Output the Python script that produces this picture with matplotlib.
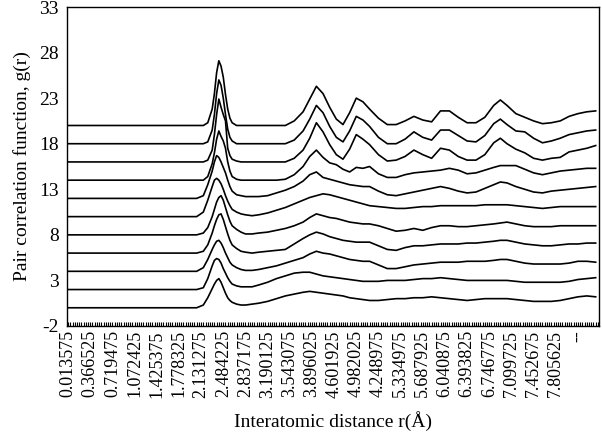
import matplotlib
matplotlib.use("Agg")
import matplotlib.pyplot as plt
import numpy as np

# category index (bins of 0.035295 A starting at 0.013575 A) where g(r) was read
sample_idx = [0, 30, 58, 61, 63, 65, 66, 67, 68, 69, 70, 71, 72, 73, 74,
              76, 78, 80, 83, 86, 90, 94, 98,
              102, 106, 109, 112, 115, 118, 121, 124, 127, 130, 133, 136,
              140, 144, 148, 152, 156, 160, 164, 168, 172, 176, 180, 184, 188, 192, 195, 198,
              202, 206, 210, 214, 218, 222, 226, 230, 234, 238]

# tick labels as printed under the axis (one every 10 categories)
tick_labels = ["0.013575", "0.366525", "0.719475", "1.072425", "1.425375", "1.778325",
               "2.131275", "2.484225", "2.837175", "3.190125", "3.543075", "3.896025",
               "4.601925", "4.982025", "4.248975", "5.334975", "5.687925", "6.040875",
               "6.393825", "6.746775", "7.099725", "7.452675", "7.805625", "--"]

# vertical shift of each curve (bottom to top)
offsets = [0, 2, 4, 6, 8, 10, 12, 14, 16, 18, 20]

g0 = [0, 0, 0, 0.3, 1.1, 2.1, 2.6, 3.0, 3.2, 2.8, 2.2, 1.6, 1.1, 0.8, 0.6,
      0.4, 0.3, 0.3, 0.4, 0.5, 0.7, 1.0, 1.3,
      1.5, 1.7, 1.8, 1.7, 1.6, 1.5, 1.4, 1.3, 1.1, 1.0, 0.9, 0.8,
      0.8, 0.9, 1.0, 1.0, 1.1, 1.1, 1.2, 1.1, 1.0, 0.9, 0.8, 0.9, 1.0, 1.0, 1.0, 1.0,
      0.9, 0.8, 0.7, 0.7, 0.7, 0.8, 1.0, 1.2, 1.3, 1.2]
g1 = [0, 0, 0, 0.2, 1.2, 2.6, 3.2, 3.4, 3.3, 2.9, 2.3, 1.8, 1.3, 0.9, 0.6,
      0.4, 0.3, 0.3, 0.3, 0.5, 0.8, 1.2, 1.5,
      1.8, 1.9, 1.9, 1.7, 1.5, 1.4, 1.3, 1.2, 1.1, 1.0, 0.9, 0.9,
      0.9, 1.0, 1.0, 1.0, 1.1, 1.2, 1.2, 1.3, 1.2, 1.1, 1.0, 1.0, 1.0, 1.0, 1.0, 1.0,
      0.9, 0.8, 0.8, 0.8, 0.8, 0.8, 0.9, 1.1, 1.2, 1.3]
g2 = [0, 0, 0, 0.4, 1.3, 2.4, 2.9, 3.3, 3.4, 3.1, 2.6, 2.0, 1.5, 1.0, 0.7,
      0.4, 0.2, 0.1, 0.1, 0.2, 0.4, 0.6, 0.9,
      1.2, 1.5, 1.9, 2.2, 2.0, 1.9, 1.7, 1.5, 1.3, 1.2, 1.1, 1.1,
      0.7, 0.3, 0.3, 0.5, 0.7, 0.8, 0.9, 1.0, 1.0, 1.0, 1.1, 1.1, 1.1, 1.2, 1.3, 1.3,
      1.1, 0.9, 0.8, 0.8, 0.8, 0.8, 0.9, 1.1, 1.1, 1.0]
g3 = [0, 0, 0, 0.2, 0.9, 2.2, 3.0, 3.7, 4.2, 4.3, 3.7, 2.9, 2.1, 1.4, 0.9,
      0.5, 0.2, 0.1, 0.0, 0.1, 0.2, 0.3, 0.4,
      1.0, 1.6, 2.0, 2.3, 2.1, 1.8, 1.6, 1.4, 1.3, 1.2, 1.2, 1.2,
      0.8, 0.4, 0.3, 0.6, 0.8, 0.8, 0.9, 1.0, 1.0, 1.0, 1.1, 1.1, 1.2, 1.3, 1.4, 1.4,
      1.2, 1.0, 0.9, 0.8, 0.8, 0.9, 1.0, 1.0, 1.1, 1.1]
g4 = [0, 0, 0, 0.2, 0.8, 2.0, 2.8, 3.6, 4.1, 4.3, 3.8, 3.0, 2.2, 1.5, 1.0,
      0.6, 0.3, 0.1, 0.1, 0.2, 0.3, 0.5, 0.7,
      1.0, 1.4, 1.9, 2.3, 2.1, 1.9, 1.8, 1.6, 1.4, 1.3, 1.2, 1.2,
      1.0, 0.7, 0.4, 0.5, 0.7, 0.5, 0.8, 1.0, 1.0, 0.9, 0.9, 1.0, 1.1, 1.2, 1.3, 1.4,
      1.2, 1.0, 0.9, 0.9, 0.9, 1.0, 1.0, 1.0, 1.0, 1.0]
g5 = [0, 0, 0, 0.5, 1.8, 3.3, 4.0, 4.2, 4.0, 3.6, 3.0, 2.3, 1.7, 1.2, 0.8,
      0.5, 0.3, 0.2, 0.1, 0.2, 0.4, 0.7, 1.0,
      1.4, 1.8, 2.1, 2.3, 2.5, 2.4, 2.2, 2.0, 1.8, 1.6, 1.4, 1.2,
      1.1, 1.0, 0.9, 0.9, 1.0, 1.1, 1.1, 1.2, 1.2, 1.2, 1.2, 1.2, 1.3, 1.3, 1.3, 1.3,
      1.2, 1.1, 1.0, 0.9, 1.0, 1.1, 1.1, 1.1, 1.1, 1.1]
g6 = [0, 0, 0, 0.3, 1.5, 3.0, 4.0, 4.7, 4.5, 4.0, 3.4, 2.8, 2.0, 1.3, 0.8,
      0.4, 0.3, 0.2, 0.2, 0.2, 0.3, 0.6, 0.9,
      1.3, 1.9, 2.6, 2.9, 2.3, 2.1, 1.9, 1.7, 1.5, 1.4, 1.3, 1.3,
      0.8, 0.4, 0.3, 0.5, 0.7, 0.9, 1.1, 1.3, 1.1, 0.8, 0.6, 0.7, 1.1, 1.5, 1.8, 1.7,
      1.3, 1.0, 0.7, 0.6, 0.8, 0.9, 1.0, 1.1, 1.2, 1.3]
g7 = [0, 0, 0, 0, 0.4, 1.8, 3.0, 4.5, 5.4, 4.8, 4.3, 3.5, 2.0, 1.0, 0.4,
      0.1, 0, 0, 0, 0, 0, 0, 0.1,
      0.6, 1.5, 2.6, 3.3, 2.5, 1.9, 1.7, 1.2, 0.9, 1.4, 1.3, 1.5,
      0.7, 0.3, 0.3, 0.6, 0.8, 0.9, 1.0, 1.1, 1.3, 1.1, 0.7, 0.8, 1.1, 1.4, 1.6, 1.6,
      1.6, 1.2, 0.8, 0.6, 0.8, 1.0, 1.1, 1.2, 1.3, 1.3]
g8 = [0, 0, 0, 0, 0.2, 1.3, 3.0, 5.2, 6.9, 6.0, 5.2, 4.5, 1.5, 0.7, 0.3,
      0.1, 0, 0, 0, 0, 0, 0, 0,
      0.4, 1.3, 2.6, 4.3, 3.3, 1.9, 0.8, 0.3, 1.4, 3.0, 2.5, 1.9,
      0.8, 0.1, 0.2, 0.6, 1.3, 0.8, 0.4, 1.5, 1.3, 0.6, 0.2, 0.2, 0.8, 2.1, 2.6, 2.0,
      1.4, 1.0, 0.4, 0.2, 0.4, 0.5, 1.1, 1.3, 1.5, 1.8]
g9 = [0, 0, 0, 0, 0.2, 1.5, 3.2, 5.5, 7.0, 6.4, 5.0, 3.2, 1.6, 0.7, 0.3,
      0, 0, 0, 0, 0, 0, 0, 0,
      0.4, 1.4, 2.7, 4.2, 3.4, 1.9, 0.7, 0.2, 1.4, 3.0, 2.6, 1.9,
      0.7, 0.0, 0.0, 0.5, 1.3, 0.7, 0.4, 1.5, 1.5, 0.9, 0.3, 0.2, 0.9, 2.2, 2.7, 2.1,
      1.4, 1.3, 0.6, 0.1, 0.3, 0.6, 1.0, 1.2, 1.4, 1.5]
g10 = [0, 0, 0, 0, 0.3, 1.8, 3.5, 5.8, 7.1, 6.5, 5.3, 3.4, 1.8, 0.8, 0.3,
       0, 0, 0, 0, 0, 0, 0, 0,
       0.5, 1.5, 2.9, 4.3, 3.5, 2.0, 0.7, 0.1, 1.4, 3.0, 2.6, 1.8,
       0.8, 0.1, 0.1, 0.5, 1.0, 0.6, 0.4, 1.6, 1.6, 0.9, 0.3, 0.3, 0.9, 2.2, 2.8, 2.2,
       1.3, 0.9, 0.5, 0.2, 0.3, 0.5, 1.0, 1.3, 1.5, 1.6]

curves = [g0, g1, g2, g3, g4, g5, g6, g7, g8, g9, g10]
n_categories = 240

plt.rcParams["font.family"] = ["Liberation Serif", "DejaVu Serif"]
plt.rcParams["axes.unicode_minus"] = False

fig = plt.figure(figsize=(6.02, 4.43), dpi=100)
ax = fig.add_axes([67 / 602, 1 - 326 / 443, 532 / 602, 319 / 443])

for g, off in zip(curves, offsets):
    ax.plot(sample_idx, np.array(g) + off, color="black", lw=1.2)

ax.set_xlim(-0.5, n_categories - 0.5)
ax.set_ylim(-2, 33)
ax.set_yticks(np.arange(-2, 34, 5))
ax.set_xticks(np.arange(0, n_categories, 10))
ax.set_xticklabels(tick_labels, rotation=90)
ax.set_xticks(np.arange(0, n_categories, 1), minor=True)
ax.tick_params(axis="x", which="both", direction="in", length=3, width=0.8, labelsize=13, pad=3)
ax.tick_params(axis="y", direction="in", length=0, labelsize=14, pad=6)
for s in ax.spines.values():
    s.set_linewidth(1.0)

ax.set_ylabel("Pair correlation function, g(r)", fontsize=14, labelpad=6)
ax.set_xlabel("Interatomic distance r(Å)", fontsize=14, labelpad=10)

fig.savefig("out.png", dpi=100)
